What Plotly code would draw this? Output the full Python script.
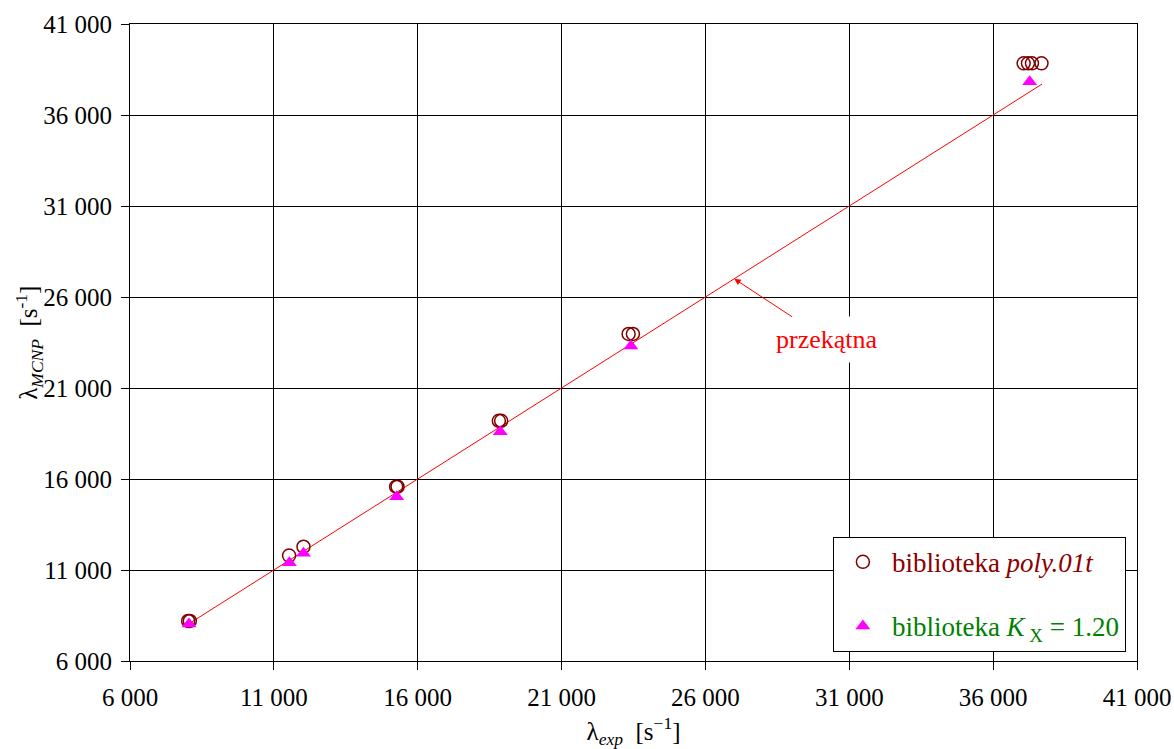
import plotly.graph_objects as go

# Decay constants: experiment vs. MCNP (poly.01t library)
poly_x = [8020, 8080, 11530, 12030, 15250, 15300, 18820, 18900, 23330, 23480,
          37060, 37210, 37350, 37680]
poly_y = [8200, 8200, 11790, 12280, 15580, 15580, 19200, 19200, 23970, 23970,
          38840, 38840, 38840, 38840]

# MCNP with K_X = 1.20
kx_x = [8050, 11540, 12030, 15270, 18870, 23410, 37270]
kx_y = [8030, 11400, 11920, 15030, 18600, 23310, 37830]

# Diagonal reference line
diag_x = [8000, 37700]
diag_y = [8000, 37700]

tick_vals = [6000, 11000, 16000, 21000, 26000, 31000, 36000, 41000]
tick_text = ["6 000", "11 000", "16 000", "21 000", "26 000", "31 000", "36 000", "41 000"]

arrow_point = (27000, 27000)
label_point = (30230, 23650)

FONT = "Liberation Serif"

fig = go.Figure()

fig.add_trace(go.Scatter(
    x=diag_x, y=diag_y, mode="lines",
    line=dict(color="#FF0000", width=1),
    showlegend=False, hoverinfo="skip",
))

fig.add_trace(go.Scatter(
    x=poly_x, y=poly_y, mode="markers",
    name='<span style="color:#8B0000">biblioteka <i>poly.01t</i></span>',
    legendgroup="a",
    marker=dict(symbol="circle-open", size=13, color="#800000",
                line=dict(color="#800000", width=1.5)),
))

fig.add_trace(go.Scatter(
    x=kx_x, y=kx_y, mode="markers",
    name='<span style="color:#008000">biblioteka <i>K</i><sub> X</sub> = 1.20</span>',
    legendgroup="b",
    marker=dict(symbol="triangle-up", size=13, color="#FF00FF"),
))

fig.add_annotation(
    x=arrow_point[0], y=arrow_point[1], xref="x", yref="y",
    ax=label_point[0], ay=label_point[1], axref="x", ayref="y",
    text="przekątna", showarrow=True,
    arrowhead=2, arrowsize=1.3, arrowwidth=1, arrowcolor="#FF0000",
    font=dict(family=FONT, size=26, color="#FF0000"),
    bgcolor="white", borderpad=8,
)

# y-axis title, rotated, left of the tick labels
fig.add_annotation(
    x=-0.101, y=0.5, xref="paper", yref="paper",
    xanchor="center", yanchor="middle",
    text="λ<sub><i>MCNP</i></sub>  [s<sup>-1</sup>]", textangle=-90,
    showarrow=False,
    font=dict(family=FONT, size=25, color="black"),
)

axis_common = dict(
    range=[6000, 41000],
    tickvals=tick_vals, ticktext=tick_text,
    showgrid=True, gridcolor="black", gridwidth=1,
    showline=True, linecolor="black", linewidth=1, mirror=True,
    ticks="outside", ticklen=8, tickcolor="black", tickwidth=1,
    tickfont=dict(family=FONT, size=25, color="black"),
    zeroline=False, automargin=False,
)

fig.update_xaxes(
    **axis_common,
    ticklabelstandoff=6,
    title=dict(text="λ<sub><i>exp</i></sub>  [s<sup>−1</sup>]",
               font=dict(family=FONT, size=25, color="black"), standoff=14),
)
fig.update_yaxes(
    **axis_common,
    ticklabelstandoff=4,
)

fig.update_layout(
    width=1174, height=749,
    margin=dict(l=130, r=37, t=24, b=88),
    plot_bgcolor="white", paper_bgcolor="white",
    font=dict(family=FONT, size=25, color="black"),
    legend=dict(
        x=0.698, y=0.195, xanchor="left", yanchor="top",
        bgcolor="white", bordercolor="black", borderwidth=1,
        font=dict(family=FONT, size=27),
        itemwidth=48, tracegroupgap=26,
    ),
    showlegend=True,
)

fig.write_html("out.html")
